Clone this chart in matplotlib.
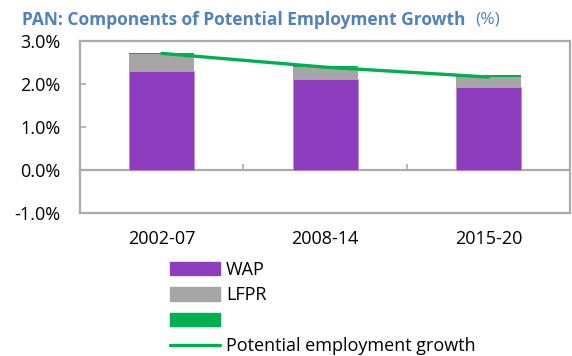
import numpy as np
import matplotlib.pyplot as plt
from matplotlib.patches import Patch
from matplotlib.lines import Line2D

plt.rcParams['font.family'] = ['Open Sans', 'DejaVu Sans']

periods = ['2002-07', '2008-14', '2015-20']
wap = [2.29, 2.12, 1.94]
lfpr = [0.41, 0.28, 0.23]
other = [0.03, 0.02, 0.03]
potential = [2.71, 2.39, 2.16]

purple = '#8F3DBF'
grey = '#A6A6A6'
green = '#00B050'
frame = '#ABABAB'

fig = plt.figure(figsize=(5.72, 3.56), dpi=100)
ax = fig.add_axes([0.140, 0.402, 0.857, 0.483])

x = np.arange(len(periods))
w = 0.4
ax.bar(x, wap, w, color=purple, edgecolor='#B98AD6', linewidth=0.6)
ax.bar(x, lfpr, w, bottom=wap, color=grey, linewidth=0)
ax.bar(x, other, w, bottom=np.add(wap, lfpr), color=green, linewidth=0)
ax.plot(x, potential, color=green, lw=2.4, solid_capstyle='round', zorder=5)

ax.set_xlim(-0.5, 2.5)
ax.set_ylim(-1, 3)
ax.set_yticks([-1, 0, 1, 2, 3])
ax.set_yticklabels([f'{v:.1f}%' for v in [-1, 0, 1, 2, 3]])
ax.set_xticks(x)
ax.set_xticklabels(periods)
ax.tick_params(axis='x', length=0, pad=12, labelsize=13)
ax.tick_params(axis='y', direction='in', length=4, width=1.2, color=frame,
               labelsize=13, pad=14)
for s in ax.spines.values():
    s.set_color(frame)
    s.set_linewidth(1.6)

# zero line with category separators
zero = ax.secondary_xaxis(0.25)
zero.set_xticks([0.5, 1.5])
zero.tick_params(direction='in', length=4, width=1.2, color=frame, labelbottom=False)
zero.spines['bottom'].set_color(frame)
zero.spines['bottom'].set_linewidth(1.6)

fig.text(0.038, 0.945, 'PAN: Components of Potential Employment Growth',
         color='#4F81BD', fontsize=12.5, fontweight='bold', va='center')
fig.text(0.830, 0.945, '(%)', color='#4F81BD', fontsize=12.5, va='center')

handles = [Patch(color=purple), Patch(color=grey), Patch(color=green),
           Line2D([], [], color=green, lw=2.4, solid_capstyle='round')]
labels = ['WAP', 'LFPR', '', 'Potential employment growth']
fig.legend(handles, labels, loc='upper left', bbox_to_anchor=(0.297, 0.268),
           frameon=False, fontsize=13, handlelength=2.8, handleheight=0.78,
           handletextpad=0.3, labelspacing=0.42, borderpad=0, borderaxespad=0)

fig.savefig('out.png', dpi=100)
